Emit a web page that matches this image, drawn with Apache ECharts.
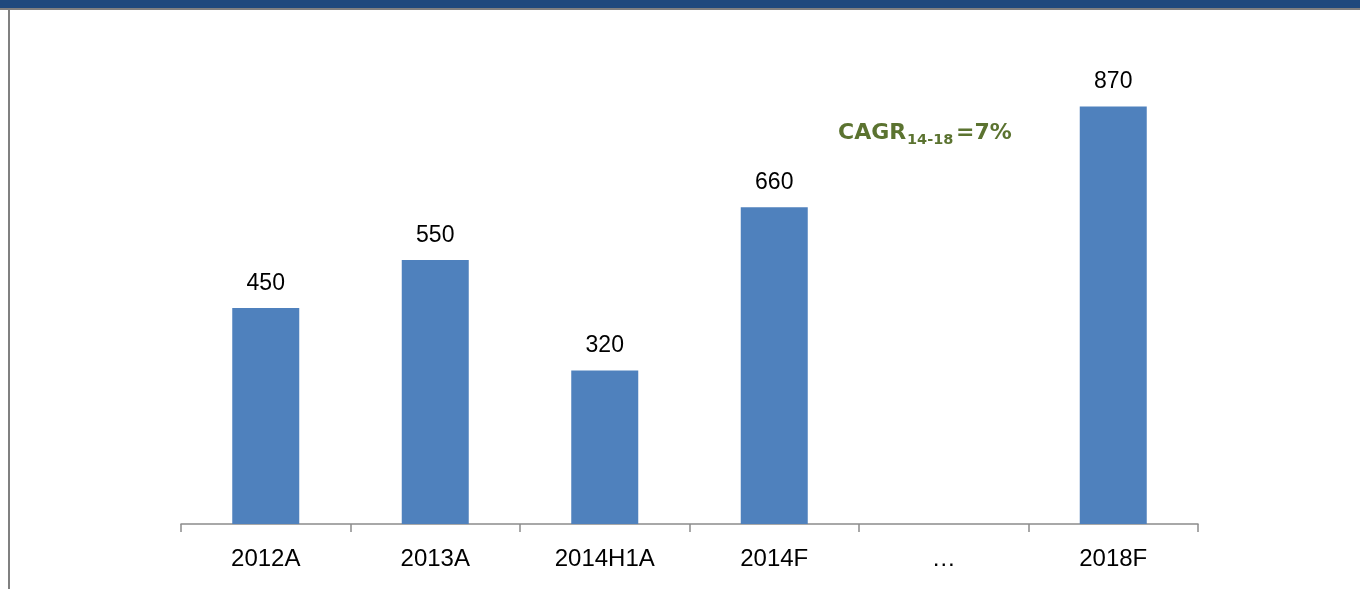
<!DOCTYPE html>
<html><head><meta charset="utf-8">
<script src="https://cdn.jsdelivr.net/npm/echarts@6/dist/echarts.min.js"></script>
<style>html,body{margin:0;padding:0;background:#fff}#c{width:1360px;height:589px}</style>
</head><body><div id="c"></div>
<script>
const categories = ['2012A','2013A','2014H1A','2014F','…','2018F'];
const values = [450, 550, 320, 660, null, 870];
const chart = echarts.init(document.getElementById('c'));
const FF = 'Liberation Sans, Arial, sans-serif';
const GF = 'DejaVu Sans, Verdana, sans-serif';
const G = '#5b7330';
chart.setOption({
  animation: false,
  grid: {left: 181, right: 162, top: 44, bottom: 65},
  xAxis: {
    type: 'category', data: categories,
    axisLine: {lineStyle: {color: '#8c8c8c', width: 1.5}},
    axisTick: {show: true, length: 8, lineStyle: {color: '#8c8c8c', width: 1.5}},
    axisLabel: {color: '#000', fontSize: 24, margin: 23, fontFamily: FF}
  },
  yAxis: {type: 'value', min: 0, max: 1000, show: false, splitLine: {show: false}},
  series: [{
    type: 'bar', data: values, barWidth: 67,
    itemStyle: {color: '#4f81bd'},
    label: {show: true, position: 'top', distance: 13, color: '#000', fontSize: 23, fontFamily: FF}
  }],
  graphic: [
    {type: 'rect', left: 0, top: 0, shape: {width: 1360, height: 8}, style: {fill: '#1f497d'}},
    {type: 'rect', left: 0, top: 8, shape: {width: 1360, height: 2}, style: {fill: '#808080'}},
    {type: 'rect', left: 8, top: 8, shape: {width: 2, height: 581}, style: {fill: '#808080'}},
    {type: 'text', x: 838, y: 133, style: {text: 'CAGR', fontSize: 22, fontWeight: 'bold', fill: G, fontFamily: GF, verticalAlign: 'middle', align: 'left'}},
    {type: 'text', x: 907, y: 140, style: {text: '14-18', fontSize: 14.5, fontWeight: 'bold', fill: G, fontFamily: GF, verticalAlign: 'middle', align: 'left'}},
    {type: 'text', x: 956, y: 133, style: {text: '=7%', fontSize: 22, fontWeight: 'bold', fill: G, fontFamily: GF, verticalAlign: 'middle', align: 'left'}}
  ]
});
</script></body></html>
